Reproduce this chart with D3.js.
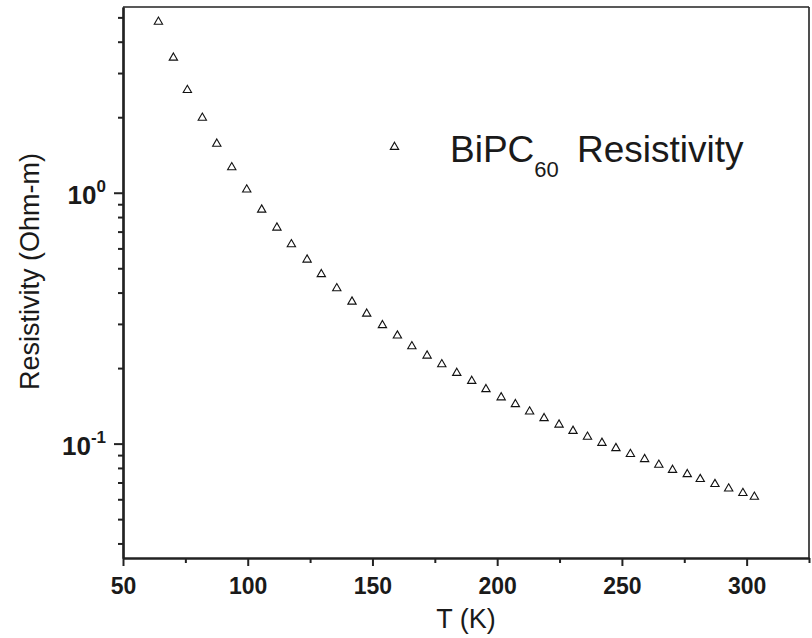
<!DOCTYPE html>
<html>
<head>
<meta charset="utf-8">
<script src="https://cdn.jsdelivr.net/npm/d3@7"></script>
<style>
  body { margin: 0; background: #fff; }
  svg text { font-family: Arial, "Liberation Sans", sans-serif; fill: #1a1a1a; }
</style>
</head>
<body>
<div id="chart"></div>
<script>
// data
const temps = [64.2, 70.2, 75.8, 81.8, 87.6, 93.6, 99.6, 105.6, 111.7, 117.5,
  123.8, 129.5, 135.7, 141.8, 147.7, 154.0, 160.0, 165.8, 171.9, 177.8,
  183.8, 189.8, 195.5, 201.6, 207.3, 213.0, 218.8, 224.8, 230.4, 236.2,
  242.0, 247.6, 253.4, 259.1, 264.8, 270.3, 276.2, 281.4, 287.3, 292.8,
  298.5, 303.1];
const resist = [4.755, 3.42, 2.542, 1.971, 1.553, 1.251, 1.02, 0.848, 0.719, 0.617,
  0.536, 0.469, 0.412, 0.3645, 0.3263, 0.2936, 0.2669, 0.2421, 0.2221, 0.2052,
  0.1895, 0.1761, 0.1632, 0.1514, 0.1422, 0.1329, 0.1251, 0.1179, 0.1113, 0.1054,
  0.0997, 0.095, 0.09, 0.0859, 0.0815, 0.0778, 0.0748, 0.0715, 0.0683, 0.0656,
  0.0629, 0.0608];

const xMajor = [50, 100, 150, 200, 250, 300];
const xMinor = [75, 125, 175, 225, 275, 325];
const yMajor = [0.1, 1];
const yMajorExp = ["-1", "0"];
const yMinor = [0.04, 0.05, 0.06, 0.07, 0.08, 0.09, 0.2, 0.3, 0.4, 0.5, 0.6, 0.7, 0.8, 0.9, 2, 3, 4, 5];

const legendName = "BiPC";
const legendSub = "60";
const legendRest = "Resistivity";
const xTitle = "T (K)";
const yTitle = "Resistivity (Ohm-m)";

/* svg setup */
const width = 812, height = 638;
const plot = { left: 123, right: 809, top: 7, bottom: 558 };
const axisColor = "#222";

const svg = d3.select("#chart")
  .append("svg")
  .attr("width", width)
  .attr("height", height);

const x = d3.scaleLinear().domain([50, 325]).range([plot.left, plot.right]);
const y = d3.scaleLog().domain([0.035, 5.5]).range([plot.bottom, plot.top]);

// top and right frame
svg.append("line")
  .attr("x1", plot.left).attr("x2", plot.right)
  .attr("y1", plot.top).attr("y2", plot.top)
  .attr("stroke", axisColor).attr("stroke-width", 1.6);
svg.append("line")
  .attr("x1", plot.right).attr("x2", plot.right)
  .attr("y1", plot.top).attr("y2", plot.bottom)
  .attr("stroke", axisColor).attr("stroke-width", 1.6);

/*
 * X Axis
 */
const gxMinor = svg.append("g")
  .attr("transform", `translate(0, ${plot.bottom})`)
  .call(d3.axisBottom(x).tickValues(xMinor).tickSize(5).tickSizeOuter(0).tickFormat(""));
const gx = svg.append("g")
  .attr("transform", `translate(0, ${plot.bottom})`)
  .call(d3.axisBottom(x).tickValues(xMajor).tickSize(8).tickSizeOuter(0).tickPadding(12));

gx.selectAll("text")
  .attr("font-size", 23)
  .attr("font-weight", "bold")
  .attr("fill", "#1a1a1a");

/*
 * Y Axis
 */
const gyMinor = svg.append("g")
  .attr("transform", `translate(${plot.left}, 0)`)
  .call(d3.axisLeft(y).tickValues(yMinor).tickSize(5).tickSizeOuter(0).tickFormat(""));
const gy = svg.append("g")
  .attr("transform", `translate(${plot.left}, 0)`)
  .call(d3.axisLeft(y).tickValues(yMajor).tickSize(9).tickSizeOuter(0).tickFormat(""));

[gx, gxMinor, gy, gyMinor].forEach(g => {
  g.selectAll(".domain").attr("stroke", axisColor).attr("stroke-width", 2.2);
  g.selectAll(".tick line").attr("stroke", axisColor).attr("stroke-width", 2);
});

// 10^n labels
const yLabels = svg.append("g");
yMajor.forEach((v, i) => {
  const t = yLabels.append("text")
    .attr("x", 106)
    .attr("y", y(v) + 11)
    .attr("text-anchor", "end")
    .attr("font-weight", "bold")
    .attr("font-size", 26);
  t.append("tspan").text("10");
  t.append("tspan")
    .attr("font-size", 17)
    .attr("dy", -12)
    .text(yMajorExp[i]);
});

// axis titles
svg.append("text")
  .attr("x", (plot.left + plot.right) / 2)
  .attr("y", 628)
  .attr("text-anchor", "middle")
  .attr("font-size", 27)
  .text(xTitle);

svg.append("text")
  .attr("transform", `translate(39, ${(plot.top + plot.bottom) / 2 - 11}) rotate(-90)`)
  .attr("text-anchor", "middle")
  .attr("font-size", 27)
  .text(yTitle);

/*
 * points
 */
const tri = d3.symbol().type(d3.symbolTriangle).size(30);

svg.append("g")
  .selectAll("path")
  .data(temps)
  .join("path")
  .attr("d", tri)
  .attr("transform", (d, i) => `translate(${x(d)}, ${y(resist[i]) - 1})`)
  .attr("fill", "#fff")
  .attr("stroke", "#111")
  .attr("stroke-width", 1.1);

/*
 * legend
 */
svg.append("path")
  .attr("d", tri)
  .attr("transform", "translate(394.5, 147)")
  .attr("fill", "#fff")
  .attr("stroke", "#111")
  .attr("stroke-width", 1.1);

const leg = svg.append("text")
  .attr("x", 450)
  .attr("y", 162)
  .attr("font-size", 37);
leg.append("tspan").text(legendName);
leg.append("tspan").attr("font-size", 22).attr("dy", 15).text(legendSub);
leg.append("tspan").attr("x", 577).attr("dy", -15).text(legendRest);
</script>
</body>
</html>
